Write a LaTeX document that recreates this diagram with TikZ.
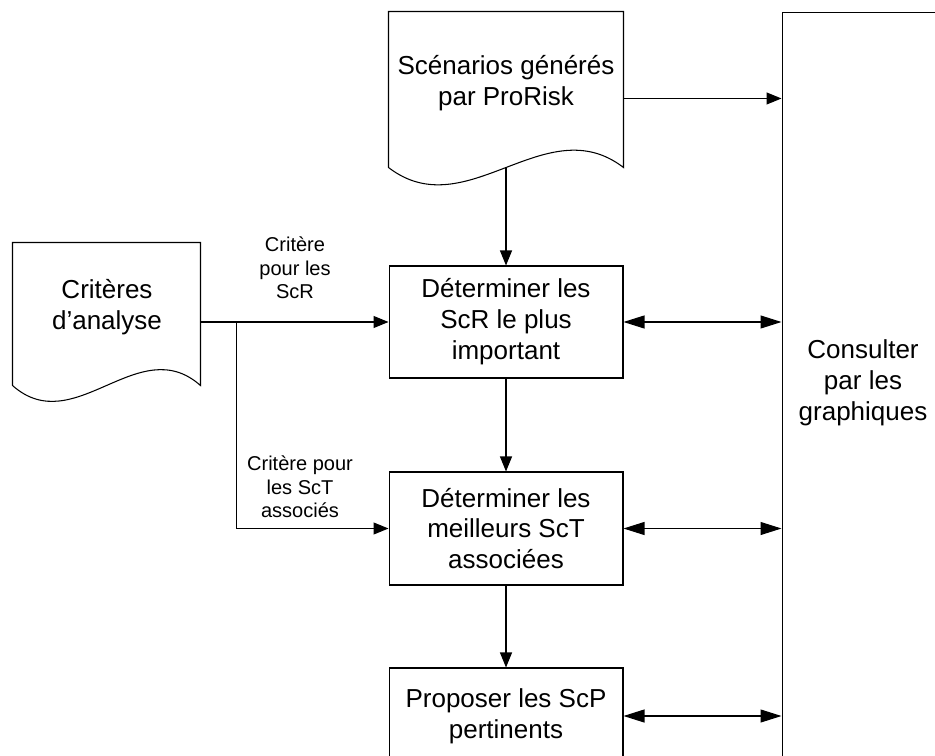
\documentclass[tikz,border=0pt]{standalone}
\usepackage{fontspec}
\setmainfont{Liberation Sans}
\usepackage{tikz}
\usetikzlibrary{arrows.meta,calc}

\tikzset{
    procbox/.style={draw, line width=0.6pt, minimum width=4.68cm, align=center, inner sep=0pt, font=\fontsize{14.8}{17.6}\selectfont},
    docbody/.style={inner sep=0pt, minimum width=#1},
    bigtext/.style={align=center, font=\fontsize{14.8}{17.6}\selectfont},
    smalltext/.style={align=center, font=\fontsize{11.4}{13.3}\selectfont},
    tip/.style={-{Triangle[length=3mm,width=2.4mm]}},
    dtip/.style={{Triangle[length=4.2mm,width=2.6mm]}-{Triangle[length=4.2mm,width=2.6mm]}}
}

\begin{document}
\begin{tikzpicture}[x=0.02cm, y=-0.02cm, line width=0.6pt]
    \path[use as bounding box, clip] (0,0) rectangle (935,756);
    \node[docbody=4.68cm, minimum height=3.1cm] (scen) at (506,89.5) {};
    \node[docbody=3.74cm, minimum height=2.84cm] (crit) at (106.5,314) {};
    \draw (scen.south west) -- (scen.north west) -- (scen.north east) -- (scen.south east) .. controls +(-78,-60) and +(78,60) .. (scen.south west);
    \draw (crit.south west) -- (crit.north west) -- (crit.north east) -- (crit.south east) .. controls +(-62,-55) and +(62,55) .. (crit.south west);
    \node[bigtext] (scentxt) at (506,83.5) {Scénarios générés\\par ProRisk};
    \node[bigtext] (crittxt) at (107,307.5) {Critères\\d’analyse};
    \node[procbox, minimum height=2.24cm] (scr) at (506,322) {Déterminer les\\ScR le plus\\important};
    \node[procbox, minimum height=2.26cm] (sct) at (506,528.5) {Déterminer les\\meilleurs ScT\\associées};
    \node[procbox, minimum height=1.92cm] (scp) at (506,716) {Proposer les ScP\\pertinents};
    \node[draw, inner sep=0pt, minimum width=3.56cm, minimum height=15.36cm] (graph) at (871,396) {};
    \node[bigtext] (graphtxt) at (863,383) {Consulter\\par les\\graphiques};
    \coordinate (scenout) at ($(scen.north east)+(0,87)$);
    \coordinate (critout) at (crit.east |- scr.west);
    \coordinate (split) at ($(critout)+(36,0)$);
    \draw[tip] (scenout) -- (graph.west |- scenout);
    \draw[tip] (scen.south) -- (scr.north);
    \draw[tip] (scr.south) -- (sct.north);
    \draw[tip] (sct.south) -- (scp.north);
    \draw[tip] (critout) -- (scr.west);
    \draw[tip] (split) |- (sct.west);
    \draw[dtip] (scr.east) -- (graph.west |- scr.east);
    \draw[dtip] (sct.east) -- (graph.west |- sct.east);
    \draw[dtip] (scp.east) -- (graph.west |- scp.east);
    \node[smalltext] (lblscr) at (295,268) {Critère\\pour les\\ScR};
    \node[smalltext] (lblsct) at (300,487) {Critère pour\\les ScT\\associés};
\end{tikzpicture}
\end{document}
